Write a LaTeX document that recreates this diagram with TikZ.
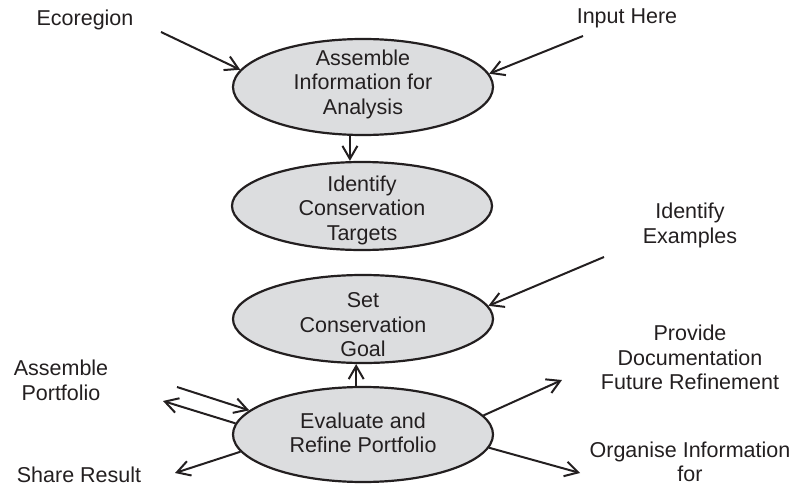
\documentclass[tikz,border=0pt]{standalone}
\usepackage{fontspec}
\setmainfont{Liberation Sans}
\usetikzlibrary{shapes.geometric,arrows.meta}
\definecolor{efill}{RGB}{220,221,223}
\definecolor{ink}{RGB}{35,31,32}
\begin{document}
\begin{tikzpicture}[x=1pt,y=-1pt,
  proc/.style={ellipse, draw=ink, line width=2.2pt, fill=efill, minimum width=260pt, inner sep=0pt},
  lbl/.style={font=\fontsize{21.5}{24.5}\selectfont, align=center, text=ink, inner sep=0pt},
  arr/.style={draw=ink, line width=2pt, -{Straight Barb[length=13pt,width=15pt]}},
]
\useasboundingbox (0,0) rectangle (796,487);
% process ellipses
\node[proc, minimum height=96pt, label={[lbl,yshift=3pt]center:Assemble\\Information for\\Analysis}] (e1) at (363,87) {};
\node[proc, minimum height=88pt, label={[lbl,yshift=-4pt]center:Identify\\Conservation\\Targets}] (e2) at (362,206) {};
\node[proc, minimum height=88pt, label={[lbl,yshift=-6pt]center:Set\\Conservation\\Goal}] (e3) at (363,319) {};
\node[proc, minimum height=95pt, label={[lbl,yshift=1.5pt]center:Evaluate and\\Refine Portfolio}] (e4) at (363,434.5) {};
% outer texts
\node[lbl] (eco) at (85,20) {Ecoregion};
\node[lbl] (inp) at (627,18) {Input Here};
\node[lbl] (idex) at (690,225.5) {Identify\\Examples};
\node[lbl] (prov) at (690,357.5) {Provide\\Documentation\\Future Refinement};
\node[lbl] (org) at (690,462) {Organise Information\\for};
\node[lbl] (asp) at (61,380.5) {Assemble\\Portfolio};
\node[lbl] (share) at (79,475) {Share Result};
% free arrow ends
\coordinate (c-eco) at (161,32);
\coordinate (c-inp) at (583,36);
\coordinate (c-idex) at (604,257);
\coordinate (c-aspin) at (177,387);
\coordinate (c-aspout) at (163,401);
\coordinate (c-share) at (175,473);
\coordinate (c-prov) at (562,380);
\coordinate (c-org) at (580,473);
% connectors
\draw[arr] (c-eco) -- (e1.172);
\draw[arr] (c-inp) -- (e1.6);
\draw[arr] (e1.255) -- (e1.255 |- e2.north);
\draw[arr] (c-idex) -- (e3.6);
\draw[arr] (e4.98) -- (e4.98 |- e3.south);
\draw[arr] (c-aspin) -- (e4.168);
\draw[arr] (e4.175) -- (c-aspout);
\draw[arr] (e4.188) -- (c-share);
\draw[arr] (e4.9) -- (c-prov);
\draw[arr] (e4.354) -- (c-org);
\end{tikzpicture}
\end{document}
